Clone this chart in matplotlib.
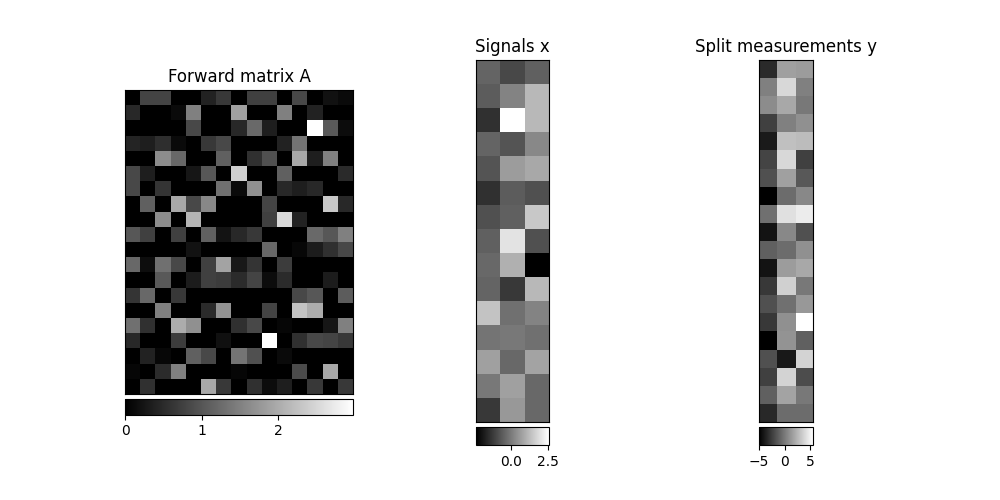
import numpy as np
import matplotlib
matplotlib.use('Agg')
import matplotlib.pyplot as plt
from mpl_toolkits.axes_grid1 import make_axes_locatable

# Forward matrix A (20 x 15)
A = np.array([
    [0, 0.79, 0.79, 0, 0, 0.40, 0.65, 0, 0.75, 0.75, 0, 0.84, 0, 0.20, 0.12],
    [0.47, 0, 0, 0.12, 1.49, 0, 0, 1.86, 0, 0, 1.49, 0, 0.40, 0, 0],
    [0, 0, 0, 0, 0.84, 0, 0, 0.47, 1.23, 0.35, 0, 0, 2.97, 1.05, 0.14],
    [0.44, 0.35, 0.54, 0.12, 0, 0.65, 0.84, 0, 0, 0, 0.40, 1.35, 0, 0, 0],
    [0, 0, 1.63, 1.21, 0, 0, 1.12, 0, 0.56, 0.93, 0, 1.96, 0.35, 1.49, 0],
    [0.84, 0.35, 0, 0, 0.26, 1.02, 0, 2.42, 0, 0, 1.12, 0, 0, 0, 0.49],
    [0.84, 0, 0.61, 0, 0, 0, 1.30, 0.12, 1.68, 0, 0.47, 0.35, 0.47, 0, 0],
    [0, 1.12, 0, 1.96, 0.84, 1.58, 0, 0, 0, 0.79, 0, 0, 0, 2.33, 0.47],
    [0, 0, 1.63, 0, 2.10, 0, 0, 0, 0, 0.75, 2.52, 0.40, 0, 0, 0],
    [1.02, 0.75, 0, 0.75, 0, 1.12, 0.23, 0.47, 0.65, 0, 0, 0, 1.23, 1.02, 1.49],
    [0, 0, 0, 0, 0.21, 0, 0, 0, 0, 1.21, 0, 0.09, 0.33, 0.56, 0.84],
    [1.21, 0.16, 1.30, 0.84, 0, 0.75, 1.91, 0.28, 0.61, 0, 0.70, 0, 0, 0, 0],
    [0, 0, 1.05, 0, 0.33, 0.75, 0.70, 0.51, 0.79, 0.14, 0.51, 0, 0, 0.33, 0],
    [0.61, 1.21, 0, 0.65, 0, 0, 0, 0, 0, 0, 0, 0.84, 1.02, 0, 1.07],
    [0, 0, 1.49, 0, 0, 0.51, 1.72, 0, 0, 0.79, 0, 2.28, 2.00, 0, 0],
    [1.30, 0.56, 0, 2.00, 1.68, 0, 0, 0.56, 0.84, 0, 0.07, 0, 0, 0.26, 1.49],
    [0.47, 0, 0, 0.70, 0, 0, 0.19, 0, 0, 2.97, 0, 0.56, 0.84, 0.79, 0.65],
    [0, 0.40, 0.09, 0, 1.12, 0.84, 0, 1.35, 0.93, 0, 0.12, 0, 0, 0, 0],
    [0.07, 0, 0.51, 1.49, 0, 0, 0, 0.07, 0, 0, 0, 0.88, 0, 1.96, 0],
    [0, 0.56, 0, 0, 0, 1.96, 0.65, 0, 0.56, 0.14, 0.35, 0, 0.65, 0, 0.65],
])

# Signals x (15 x 3)
x = np.array([
    [-0.42, -0.95, -0.49],
    [-0.57, 0.20, 1.19],
    [-1.41, 2.55, 1.19],
    [-0.42, -0.72, 0.27],
    [-0.72, 0.66, 0.89],
    [-1.41, -0.57, -0.80],
    [-0.80, -0.49, 1.50],
    [-0.49, 2.03, -0.80],
    [-0.34, 1.04, -2.33],
    [-0.42, -1.26, 1.19],
    [1.42, -0.19, 0.20],
    [-0.11, -0.03, -0.19],
    [0.73, -0.34, 0.81],
    [-0.03, 0.73, -0.34],
    [-1.26, 0.58, -0.34],
])

# Split measurements y (20 x 3)
y = np.array([
    [-3.31, 1.61, 1.44],
    [0.28, 3.95, 0.28],
    [0.78, 1.94, -0.06],
    [-2.39, 0.28, 0.94],
    [-3.98, 2.94, 2.78],
    [-2.23, 3.95, -2.39],
    [-1.72, 1.61, -1.39],
    [-5.06, -0.56, 0.61],
    [-0.39, 4.28, 4.78],
    [-4.23, 0.61, -1.72],
    [-1.06, -0.56, 0.94],
    [-4.23, 1.44, 1.94],
    [-2.73, 3.61, -0.06],
    [-1.72, -0.39, 1.28],
    [-2.73, 0.94, 5.57],
    [-5.06, 1.11, -1.06],
    [-1.72, -4.06, 3.78],
    [-2.39, 3.78, -1.89],
    [-1.06, 1.78, -0.06],
    [-3.39, -0.56, -0.56],
])

titles = ['Forward matrix A', 'Signals x', 'Split measurements y']

fig, axes = plt.subplots(1, 3, figsize=(10, 5))
for ax, data, title in zip(axes, [A, x, y], titles):
    im = ax.imshow(data, cmap='gray')
    ax.set_title(title)
    ax.set_xticks([])
    ax.set_yticks([])
    divider = make_axes_locatable(ax)
    cax = divider.append_axes('bottom', size='5%', pad=0.05)
    fig.colorbar(im, cax=cax, orientation='horizontal')

plt.savefig('out.png', dpi=100)
